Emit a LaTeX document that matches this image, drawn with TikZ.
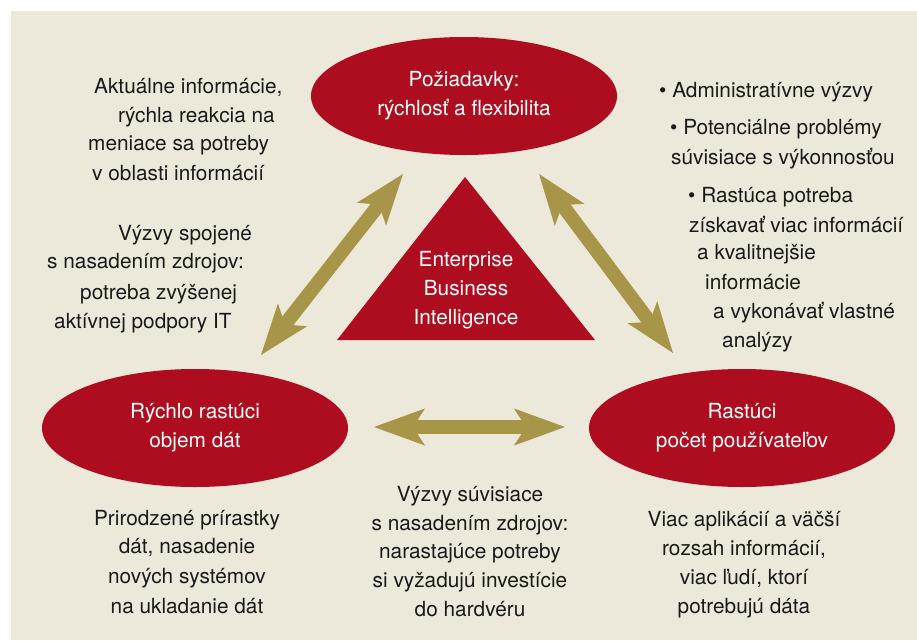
\documentclass[tikz,border=0pt]{standalone}
\usepackage{fontspec}
\setmainfont{TeX Gyre Heros}
\usetikzlibrary{arrows.meta,shapes.geometric}
\definecolor{bgbeige}{HTML}{ECE8DA}
\definecolor{ebired}{HTML}{AD0D1E}
\definecolor{gold}{HTML}{A89648}
\definecolor{txtblack}{HTML}{1A1A1A}
\begin{document}
\begin{tikzpicture}[x=1pt,y=-1pt,
  txt/.style={font=\fontsize{20.8}{29}\selectfont, text=txtblack, inner sep=0pt},
  wtxt/.style={font=\fontsize{20.8}{29}\selectfont, text=white, align=center, inner sep=0pt},
  oval/.style={ellipse, fill=ebired, minimum width=306pt, minimum height=118pt, inner sep=0pt},
  bigtip/.tip={Stealth[length=51pt,width=37pt,inset=12pt,line width=0pt]},
  dblarrow/.style={draw=gold, line width=14pt, bigtip-bigtip}
]
\useasboundingbox (0,0) rectangle (917,640);
\fill[white] (0,0) rectangle (917,640);
\fill[bgbeige] (11,11) rectangle (917,640);

% ellipses
\node[oval, wtxt] (req) at (464,96) {Požiadavky:\\rýchlosť a flexibilita};
\node[oval, wtxt] (data) at (195,428) {Rýchlo rastúci\\objem dát};
\node[oval, wtxt] (users) at (742,428) {Rastúci\\počet používateľov};

% triangle
\coordinate (tA) at (465,177);
\coordinate (tB) at (337,340);
\coordinate (tC) at (595,340);
\fill[ebired] (tA) -- (tB) -- (tC) -- cycle;
\node[wtxt, anchor=base] (ebi) at (466,324) {Enterprise\\Business\\Intelligence};

% arrows
\coordinate (a1) at (403,174);
\coordinate (a2) at (261,355);
\coordinate (b1) at (539,174);
\coordinate (b2) at (673,353);
\coordinate (c1) at (374,427);
\coordinate (c2) at (565,427);
\draw[dblarrow] (a1) -- (a2);
\draw[dblarrow] (b1) -- (b2);
\draw[dblarrow] (c1) -- (c2);

% left-aligned staggered lines
\foreach \s/\x/\y [count=\i] in {
  {Aktuálne informácie,}/94/93,
  {rýchla reakcia na}/118/122,
  {meniace sa potreby}/88/150,
  {v oblasti informácií}/92/180,
  {Výzvy spojené}/118/240,
  {s nasadením zdrojov:}/47/268,
  {potreba zvýšenej}/80/299,
  {aktívnej podpory IT}/54/328,
  {• Administratívne výzvy}/659/97,
  {• Potenciálne problémy}/670/134,
  {súvisiace s výkonnosťou}/671/164,
  {• Rastúca potreba}/688/202,
  {získavať viac informácií}/689/232,
  {a kvalitnejšie}/697/259,
  {informácie}/705/289,
  {a vykonávať vlastné}/713/318,
  {analýzy}/722/347}
  \node[txt, anchor=base west] (sl\i) at (\x,\y) {\s};

% centered lines
\foreach \s/\x/\y [count=\i] in {
  {Prirodzené prírastky}/187/525,
  {dát, nasadenie}/187/553,
  {nových systémov}/187/583,
  {na ukladanie dát}/187/613,
  {Výzvy súvisiace}/470/501,
  {s nasadením zdrojov:}/470/530,
  {narastajúce potreby}/470/558,
  {si vyžadujú investície}/470/587,
  {do hardvéru}/470/616,
  {Viac aplikácií a väčší}/744/526,
  {rozsah informácií,}/744/555,
  {viac ľudí, ktorí}/744/584,
  {potrebujú dáta}/744/613}
  \node[txt, anchor=base] (cl\i) at (\x,\y) {\s};
\end{tikzpicture}
\end{document}
